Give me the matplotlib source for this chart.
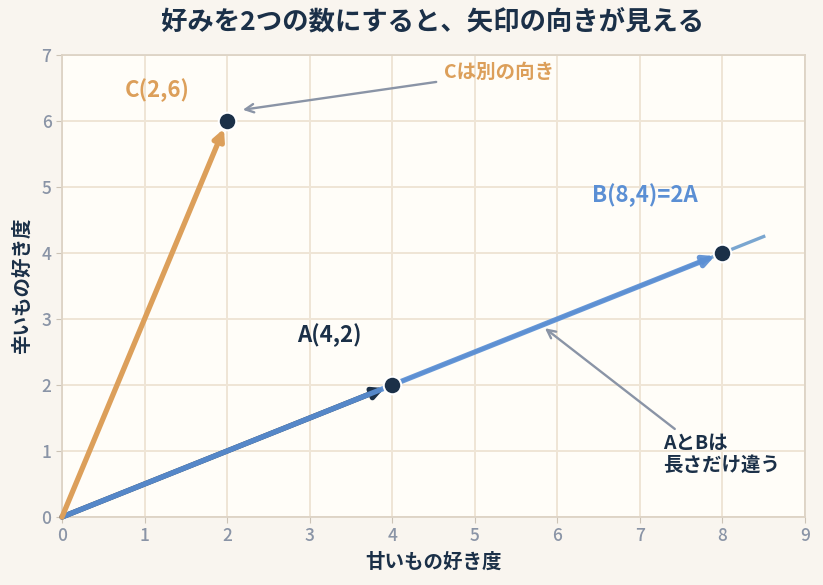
import matplotlib.pyplot as plt
import numpy as np

plt.rcParams['font.family'] = ['Noto Sans CJK JP', 'DejaVu Sans']

# vectors (sweet, spicy)
names = ['A', 'B', 'C']
vx = [4, 8, 2]
vy = [2, 4, 6]
span_end = (8.5, 4.25)

navy = '#1b3048'
blue = '#5b8fd4'
orange = '#dc9f5a'
gray = '#8a94a6'

fig = plt.figure(figsize=(8.23, 5.85), dpi=100, facecolor='#f9f5ef')
ax = fig.add_axes([62/823, 1-517/585, 743/823, 462/585])
ax.set_facecolor('#fffdf8')

ax.set_xlim(0, 9)
ax.set_ylim(0, 7)
ax.set_xticks(range(10))
ax.set_yticks(range(8))
ax.grid(True, color='#efe5d6', lw=1.4)
ax.set_axisbelow(True)
for s in ax.spines.values():
    s.set_color('#ddd3c5')
    s.set_linewidth(1.3)
ax.tick_params(colors='#ccc3b6', labelcolor=gray, labelsize=12.5, length=4)
for lab in ax.get_xticklabels() + ax.get_yticklabels():
    lab.set_fontweight('medium')

# span line through A and B
ax.plot([0, span_end[0]], [0, span_end[1]], color='#7aa6d0', lw=2.4, zorder=2)

def arrow(x, y, c, alpha=1.0):
    ax.annotate('', xy=(x, y), xytext=(0, 0),
                arrowprops=dict(arrowstyle='-|>', color=c, lw=3.8, alpha=alpha,
                                mutation_scale=16, shrinkA=0, shrinkB=6),
                zorder=3)

arrow(vx[0], vy[0], navy)
arrow(vx[1], vy[1], blue, alpha=0.92)
arrow(vx[2], vy[2], orange)

ax.scatter(vx, vy, s=160, color=navy, edgecolor='white', linewidth=1.5, zorder=5)

ax.text(1.15, 6.47, 'C(2,6)', color=orange, fontsize=16, fontweight='bold',
        ha='center', va='center')
ax.text(3.24, 2.76, 'A(4,2)', color=navy, fontsize=16, fontweight='bold',
        ha='center', va='center')
ax.text(7.06, 4.88, 'B(8,4)=2A', color=blue, fontsize=16, fontweight='bold',
        ha='center', va='center')

ax.annotate('Cは別の向き', xy=(2.19, 6.17), xytext=(5.3, 6.73),
            color=orange, fontsize=14, fontweight='bold', ha='center', va='center',
            arrowprops=dict(arrowstyle='->', color=gray, lw=1.7, mutation_scale=15,
                            shrinkA=4, shrinkB=0))
ax.annotate('AとBは\n長さだけ違う', xy=(5.85, 2.86), xytext=(7.28, 0.95),
            color=navy, fontsize=14, fontweight='bold', ha='left', va='center',
            linespacing=1.25,
            arrowprops=dict(arrowstyle='->', color=gray, lw=1.7, mutation_scale=15,
                            shrinkA=2, shrinkB=0, relpos=(0.15, 1.0)))

ax.set_xlabel('甘いもの好き度', fontsize=14, fontweight='bold', color=navy, labelpad=5)
ax.set_ylabel('辛いもの好き度', fontsize=14, fontweight='bold', color=navy, labelpad=7)
fig.text(433/823, 1-22/585, '好みを2つの数にすると、矢印の向きが見える',
         ha='center', va='center', fontsize=19, fontweight='bold', color=navy)

fig.savefig('out.png', dpi=100, facecolor=fig.get_facecolor())
